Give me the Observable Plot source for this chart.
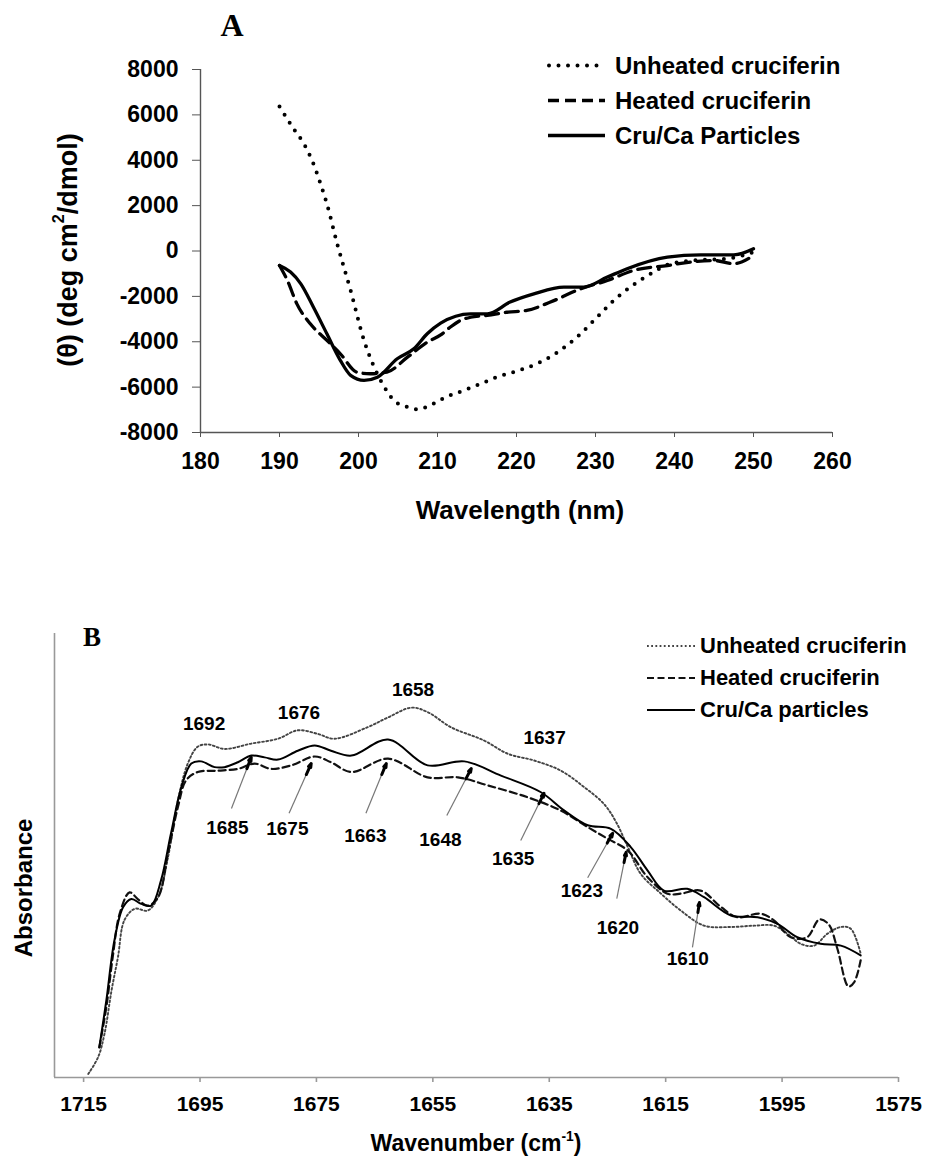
<!DOCTYPE html>
<html><head><meta charset="utf-8">
<script src="https://cdn.jsdelivr.net/npm/d3@7"></script>
<script src="https://cdn.jsdelivr.net/npm/@observablehq/plot@0.6"></script>
<style>
body{margin:0;background:#fff;}
#page{position:relative;width:925px;height:1163px;overflow:hidden;font-family:"Liberation Sans",Arial,sans-serif;font-weight:bold;color:#000;background:#fff;}
.abs{position:absolute;white-space:nowrap;line-height:1;}
#a,#b{position:absolute;left:0;}
#a{top:0;} #b{top:540px;}
sup{font-size:0.6em;vertical-align:0.75em;line-height:0;}
</style></head>
<body>
<div id="page">
  <div id="a"></div>
  <div id="b"></div>
</div>
<script>
// ---------- Panel A: CD spectra ----------
const xTicksA = [180, 190, 200, 210, 220, 230, 240, 250, 260];
const yTicksA = [8000, 6000, 4000, 2000, 0, -2000, -4000, -6000, -8000];
const seriesNamesA = ["Unheated cruciferin", "Heated cruciferin", "Cru/Ca Particles"];

const unheatedWlA = [190, 191.8, 193.1, 194.3, 195.2, 196.0, 197.3, 199.0, 200.7, 202.8, 204.5, 206.2, 207.4, 209.5, 211.0, 213.3, 215.5, 217.5, 219.5, 223.0, 225.2, 228.1, 230.2, 232.3, 234.4, 237.0, 239.5, 242.4, 246.6, 250];
const unheatedA   = [6370, 5380, 4720, 3840, 2960, 2080, 320, -1740, -3940, -5700, -6590, -6880, -6980, -6730, -6450, -6150, -5850, -5560, -5350, -4900, -4460, -3650, -2920, -2180, -1590, -1000, -560, -420, -340, -50];

const heatedWlA = [190, 191, 192.2, 193.9, 196, 197.7, 199.8, 201.5, 203.6, 206.2, 208.7, 210.4, 211.6, 212.9, 214.2, 216.3, 218.8, 221.3, 224.3, 228.1, 231.5, 234.8, 239.1, 242, 245, 247.5, 250];
const heatedA   = [-640, -1300, -2330, -3210, -3940, -4530, -5340, -5410, -5340, -4680, -4020, -3700, -3360, -3060, -2920, -2840, -2700, -2620, -2250, -1670, -1300, -860, -640, -490, -420, -560, -200];

const particlesWlA = [190, 191.4, 192.7, 194.3, 196, 197.7, 199, 200.7, 202.4, 204.9, 207, 208.7, 210.4, 214.2, 216.3, 219.2, 222.2, 226, 228.5, 231.5, 234, 239.1, 243.3, 247.5, 250];
const particlesA   = [-640, -930, -1450, -2480, -3650, -4820, -5480, -5700, -5560, -4750, -4310, -3650, -3180, -2770, -2770, -2250, -1890, -1590, -1590, -1150, -780, -270, -170, -170, 100];

// ---------- Panel B: FTIR amide I ----------
const xTicksB = [1715, 1695, 1675, 1655, 1635, 1615, 1595, 1575];
const seriesNamesB = ["Unheated cruciferin", "Heated cruciferin", "Cru/Ca particles"];

const unheatedWnB = [1714.2, 1712.5, 1711.4, 1710.2, 1709.1, 1708, 1706.2, 1704, 1702.2, 1700.5, 1698.8, 1697.1, 1695.4, 1693.6, 1690.8, 1686.2, 1681.6, 1678.2, 1674.8, 1671.9, 1666.2, 1662.7, 1658.7, 1655.9, 1651.9, 1646.2, 1642.1, 1637.6, 1633, 1629, 1625.6, 1623.5, 1621.5, 1619.3, 1615.8, 1612.4, 1608.4, 1603.8, 1599.8, 1596.4, 1594.1, 1591.8, 1589.5, 1587.2, 1584.9, 1583.2, 1581.5];
const unheatedB   = [0.008, 0.046, 0.099, 0.196, 0.271, 0.354, 0.380, 0.376, 0.406, 0.496, 0.624, 0.707, 0.745, 0.750, 0.740, 0.752, 0.763, 0.782, 0.774, 0.763, 0.789, 0.811, 0.833, 0.823, 0.789, 0.759, 0.729, 0.714, 0.691, 0.654, 0.616, 0.575, 0.519, 0.459, 0.414, 0.376, 0.342, 0.339, 0.342, 0.342, 0.324, 0.301, 0.297, 0.324, 0.339, 0.335, 0.279];

const heatedWnB = [1712.3, 1711.1, 1710, 1708.8, 1707.1, 1705.7, 1704, 1702.2, 1700.5, 1698.8, 1697.4, 1695.4, 1692, 1688.5, 1685.6, 1682.8, 1679.3, 1675.3, 1672.5, 1669, 1662.7, 1655.9, 1650.7, 1645.6, 1638.7, 1633, 1628.4, 1625, 1621.5, 1618.1, 1614.7, 1612.4, 1609, 1605.5, 1602.7, 1598.7, 1596.4, 1593.5, 1590.7, 1588.6, 1587.0, 1585.5, 1583.6, 1582.6, 1581.5];
const heatedB   = [0.068, 0.158, 0.271, 0.369, 0.417, 0.402, 0.387, 0.406, 0.504, 0.609, 0.669, 0.688, 0.691, 0.695, 0.707, 0.695, 0.703, 0.723, 0.710, 0.688, 0.718, 0.676, 0.676, 0.658, 0.631, 0.601, 0.564, 0.538, 0.511, 0.451, 0.414, 0.414, 0.421, 0.384, 0.361, 0.369, 0.354, 0.316, 0.316, 0.356, 0.345, 0.290, 0.205, 0.215, 0.264];

const particlesWnB = [1712.3, 1711.1, 1709.7, 1708.2, 1706.8, 1705.1, 1703.4, 1701.7, 1700, 1698.2, 1696.5, 1694.8, 1692.5, 1690.8, 1688.5, 1686.2, 1683.9, 1681.6, 1678.2, 1675.3, 1672.5, 1669, 1662.7, 1655.9, 1649.6, 1643.3, 1636.5, 1632.4, 1628.4, 1624.4, 1621, 1618.1, 1615.3, 1611.3, 1608.4, 1603.8, 1599.2, 1595.8, 1592.4, 1588.4, 1584.9, 1581.5];
const particlesB   = [0.068, 0.173, 0.309, 0.384, 0.402, 0.391, 0.387, 0.444, 0.549, 0.654, 0.707, 0.712, 0.699, 0.699, 0.710, 0.725, 0.721, 0.716, 0.736, 0.748, 0.736, 0.725, 0.761, 0.703, 0.712, 0.680, 0.643, 0.601, 0.568, 0.560, 0.519, 0.466, 0.421, 0.425, 0.406, 0.365, 0.361, 0.346, 0.316, 0.301, 0.297, 0.275];

// band annotations (positions in data units)
const peakLabels = ["1692", "1676", "1658", "1637"];
const peakLabelWn = [1694.3, 1678.0, 1658.4, 1635.8];
const peakLabelAbs = [0.797, 0.822, 0.874, 0.764];

const arrowLabels = ["1685", "1675", "1663", "1648", "1635", "1623", "1620", "1610"];
const arrowLabelWn = [1690.3, 1680.0, 1666.6, 1653.7, 1641.2, 1629.4, 1623.2, 1611.2];
const arrowLabelAbs = [0.563, 0.561, 0.545, 0.534, 0.493, 0.421, 0.338, 0.266];
const arrowTailWn = [1689.6, 1679.7, 1666.5, 1652.6, 1639.9, 1628.4, 1623.4, 1610.4];
const arrowTailAbs = [0.606, 0.595, 0.595, 0.590, 0.534, 0.450, 0.403, 0.293];
const arrowHeadWn = [1686.2, 1675.9, 1663.0, 1648.4, 1635.9, 1624.1, 1621.8, 1609.2];
const arrowHeadAbs = [0.721, 0.707, 0.707, 0.696, 0.640, 0.550, 0.507, 0.394];

// ---------- build ----------
const zip = (xs, ys) => xs.map((x, i) => ({x, y: ys[i]}));
const font = "Liberation Sans, Arial, sans-serif";

const A = Plot.plot({
  width: 925, height: 540,
  marginTop: 69, marginBottom: 108, marginLeft: 200, marginRight: 93,
  x: {domain: [180, 260]},
  y: {domain: [-8000, 8000]},
  style: {fontFamily: font, fontSize: "23px", fontWeight: "bold", background: "transparent", color: "#000", overflow: "visible"},
  marks: [
    Plot.ruleX([180], {stroke: "#555", strokeWidth: 1.4}),
    Plot.ruleY([-8000], {stroke: "#555", strokeWidth: 1.4}),
    Plot.axisY({ticks: yTicksA, tickSize: 8, tickPadding: 14, tickFormat: d => String(d), label: null, stroke: "#555", fill: "#000", fontSize: 23, fontWeight: "bold"}),
    Plot.axisX({ticks: xTicksA, tickSize: 5, tickPadding: 15, tickFormat: d => String(d), label: null, stroke: "#555", fill: "#000", fontSize: 23, fontWeight: "bold"}),
    Plot.line(zip(unheatedWlA, unheatedA), {x: "x", y: "y", stroke: "#000", strokeWidth: 4, strokeDasharray: "0 9.5", strokeLinecap: "round", curve: "monotone-x"}),
    Plot.line(zip(heatedWlA, heatedA), {x: "x", y: "y", stroke: "#000", strokeWidth: 3.3, strokeDasharray: "13 7", curve: "monotone-x"}),
    Plot.line(zip(particlesWlA, particlesA), {x: "x", y: "y", stroke: "#000", strokeWidth: 3.3, curve: "monotone-x"})
  ]
});
document.getElementById("a").appendChild(A);

const headBase = arrowHeadWn.map((w, i) => ({
  x1: w - 0.22 * (w - arrowTailWn[i]),
  y1: arrowHeadAbs[i] - 0.22 * (arrowHeadAbs[i] - arrowTailAbs[i]),
  x2: w, y2: arrowHeadAbs[i]
}));
const shafts = arrowHeadWn.map((w, i) => ({x1: arrowTailWn[i], y1: arrowTailAbs[i], x2: w, y2: arrowHeadAbs[i]}));

const B = Plot.plot({
  width: 925, height: 623,
  marginTop: 93, marginBottom: 86, marginLeft: 54, marginRight: 27,
  x: {domain: [1720, 1575]},
  y: {domain: [0, 1], axis: null},
  style: {fontFamily: font, fontSize: "21px", fontWeight: "bold", background: "transparent", color: "#000", overflow: "visible"},
  marks: [
    Plot.ruleX([1720], {stroke: "#999", strokeWidth: 1.6}),
    Plot.ruleY([0], {stroke: "#999", strokeWidth: 1.6}),
    Plot.axisX({ticks: xTicksB, tickSize: 5, tickPadding: 14, tickFormat: d => String(d), label: null, stroke: "#999", strokeWidth: 1.6, fill: "#000", fontSize: 21, fontWeight: "bold"}),
    Plot.line(zip(unheatedWnB, unheatedB), {x: "x", y: "y", stroke: "#444", strokeWidth: 1.9, strokeDasharray: "1.8 2.4", curve: "catmull-rom"}),
    Plot.line(zip(heatedWnB, heatedB), {x: "x", y: "y", stroke: "#111", strokeWidth: 2.2, strokeDasharray: "7 4", curve: "catmull-rom"}),
    Plot.line(zip(particlesWnB, particlesB), {x: "x", y: "y", stroke: "#000", strokeWidth: 2, curve: "catmull-rom"}),
    Plot.link(shafts, {x1: "x1", y1: "y1", x2: "x2", y2: "y2", stroke: "#777", strokeWidth: 1.2}),
    Plot.arrow(headBase, {x1: "x1", y1: "y1", x2: "x2", y2: "y2", stroke: "#000", strokeWidth: 3, headLength: 8, headAngle: 35}),
    Plot.text(peakLabels.map((t, i) => ({t, x: peakLabelWn[i], y: peakLabelAbs[i]})), {x: "x", y: "y", text: "t", fill: "#000", fontSize: 19, fontWeight: "bold"}),
    Plot.text(arrowLabels.map((t, i) => ({t, x: arrowLabelWn[i], y: arrowLabelAbs[i]})), {x: "x", y: "y", text: "t", fill: "#000", fontSize: 19, fontWeight: "bold"})
  ]
});
document.getElementById("b").appendChild(B);

// ---------- text and legends ----------
const page = document.getElementById("page");
function addDiv(html, css) {
  const d = document.createElement("div");
  d.className = "abs";
  d.innerHTML = html;
  Object.assign(d.style, css);
  page.appendChild(d);
  return d;
}
// panel letters
addDiv("A", {left: "232px", top: "9px", transform: "translateX(-50%)", fontFamily: "Liberation Serif, Times New Roman, serif", fontSize: "32px"});
addDiv("B", {left: "83px", top: "624px", fontFamily: "Liberation Serif, Times New Roman, serif", fontSize: "27px"});
// axis titles
addDiv("(θ) (deg cm<sup>2</sup>/dmol)", {left: "68px", top: "250px", transform: "translate(-50%,-50%) rotate(-90deg)", fontSize: "27px"});
addDiv("Wavelength (nm)", {left: "520px", top: "497px", transform: "translateX(-50%)", fontSize: "26px"});
addDiv("Absorbance", {left: "24px", top: "888px", transform: "translate(-50%,-50%) rotate(-90deg)", fontSize: "24px"});
addDiv("Wavenumber (cm<sup>-1</sup>)", {left: "476px", top: "1132px", transform: "translateX(-50%)", fontSize: "23px"});

// legends
const svgNS = "http://www.w3.org/2000/svg";
function legend(names, rowsY, textLeft, textSize, lineX1, lineX2, styles) {
  const s = document.createElementNS(svgNS, "svg");
  s.setAttribute("width", 925); s.setAttribute("height", 1163);
  s.style.position = "absolute"; s.style.left = "0"; s.style.top = "0"; s.style.pointerEvents = "none";
  names.forEach((n, i) => {
    const l = document.createElementNS(svgNS, "line");
    l.setAttribute("x1", lineX1[i]); l.setAttribute("x2", lineX2);
    l.setAttribute("y1", rowsY[i]); l.setAttribute("y2", rowsY[i]);
    for (const k in styles[i]) l.setAttribute(k, styles[i][k]);
    s.appendChild(l);
    addDiv(n, {left: textLeft + "px", top: (rowsY[i] - 0.4885 * textSize) + "px", fontSize: textSize + "px"});
  });
  page.appendChild(s);
}
legend(seriesNamesA, [65.5, 100.5, 135.5], 615, 24, [549, 548, 548], 605, [
  {stroke: "#000", "stroke-width": 4, "stroke-dasharray": "0 9.5", "stroke-linecap": "round"},
  {stroke: "#000", "stroke-width": 3.3, "stroke-dasharray": "11 6"},
  {stroke: "#000", "stroke-width": 3.3}
]);
legend(seriesNamesB, [646, 678, 710], 700, 22, [647, 647, 647], 695, [
  {stroke: "#444", "stroke-width": 1.9, "stroke-dasharray": "1.8 2.4"},
  {stroke: "#111", "stroke-width": 2.2, "stroke-dasharray": "7 3.5"},
  {stroke: "#000", "stroke-width": 2}
]);
</script>
</body></html>
